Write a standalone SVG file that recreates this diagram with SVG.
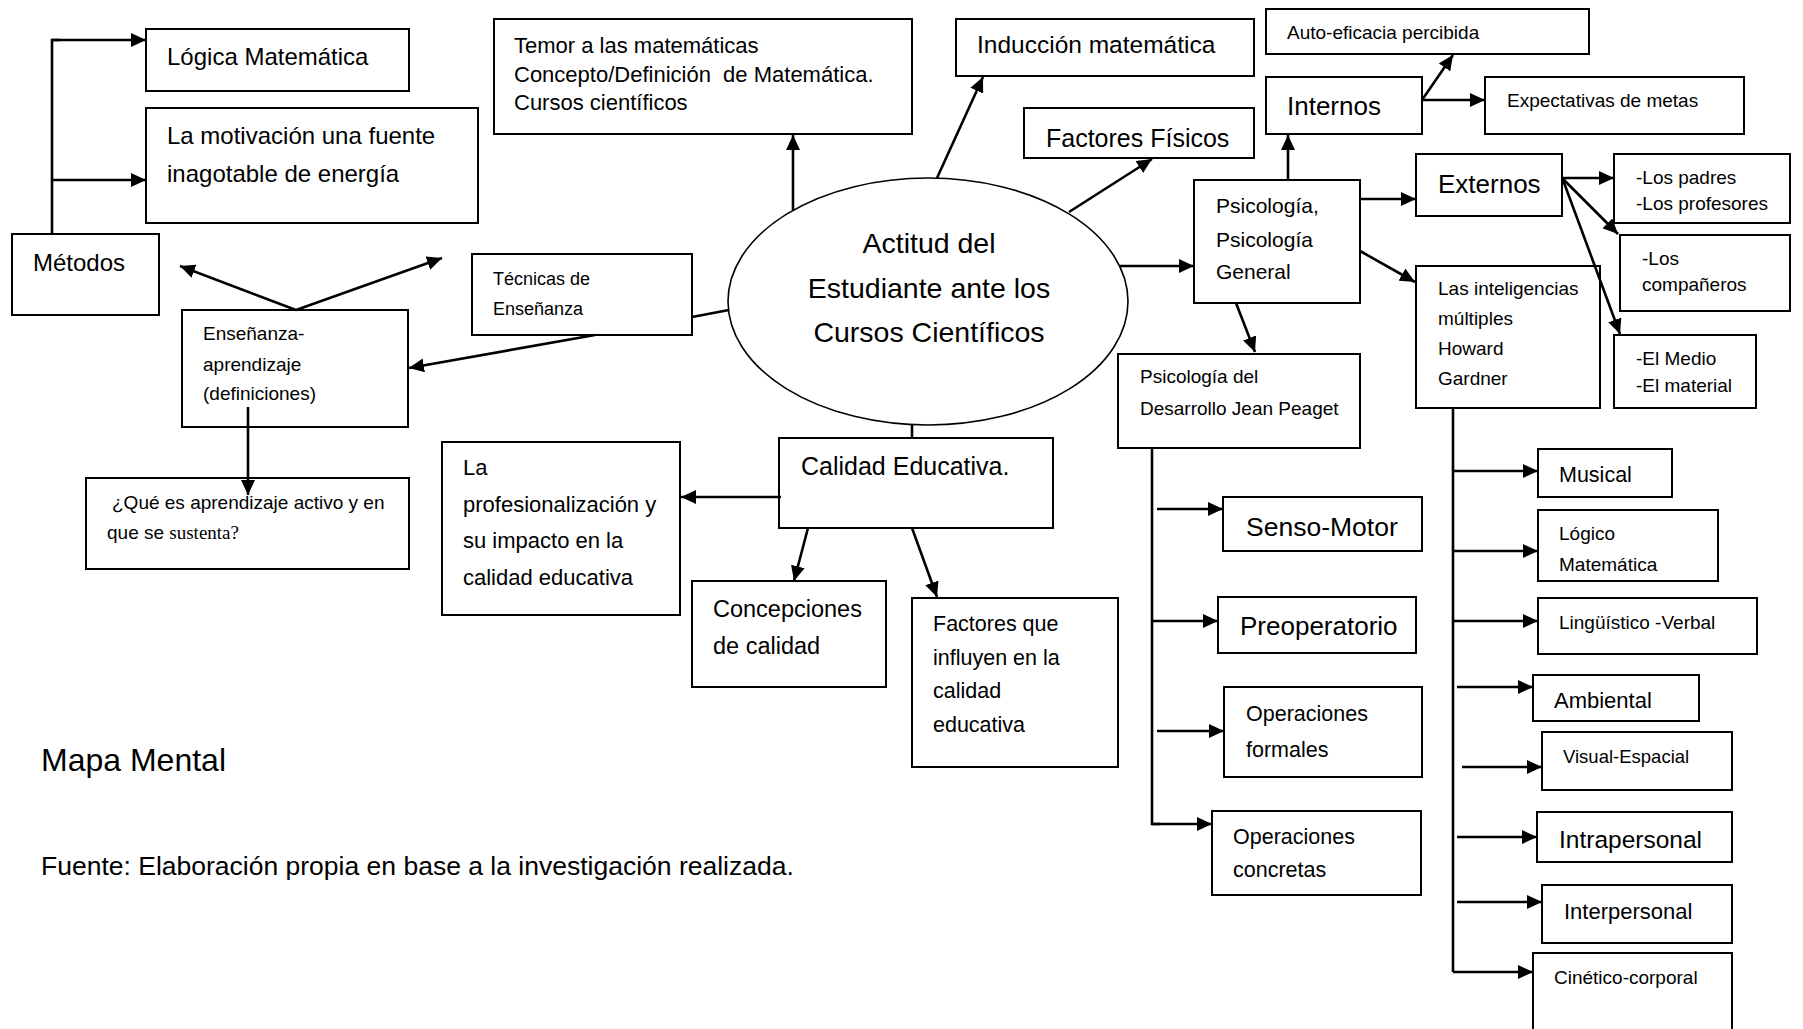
<svg xmlns="http://www.w3.org/2000/svg" width="1803" height="1029" viewBox="0 0 1803 1029">
<style>
.b{fill:#fff;stroke:#000;stroke-width:2}
.e{fill:#fff;stroke:#000;stroke-width:1.6}
.t{font-family:"Liberation Sans",Arial,sans-serif;fill:#000}
.c{fill:none;stroke:#000;stroke-width:2.6}
.a{fill:none;stroke:#000;stroke-width:2.6;marker-end:url(#ah)}
</style>
<defs>
<marker id="ah" markerUnits="userSpaceOnUse" markerWidth="16" markerHeight="14" refX="15" refY="7" orient="auto">
<path d="M0,0 L15,7 L0,14 z" fill="#000"/>
</marker>
</defs>
<rect width="1803" height="1029" fill="#fff"/>

<g id="n-logica"><rect class="b" x="146" y="29" width="263" height="62"/><text class="t" x="167" y="65" font-size="24">Lógica Matemática</text></g>
<g id="n-motivacion"><rect class="b" x="146" y="108" width="332" height="115"/><text class="t" x="167" y="144" font-size="24">La motivación una fuente</text><text class="t" x="167" y="182" font-size="24">inagotable de energía</text></g>
<g id="n-metodos"><rect class="b" x="12" y="234" width="147" height="81"/><text class="t" x="33" y="271" font-size="24">Métodos</text></g>
<g id="n-temor"><rect class="b" x="494" y="19" width="418" height="115"/><text class="t" font-size="22" x="514" y="53">Temor a las matemáticas</text><text class="t" font-size="22" x="514" y="82" xml:space="preserve">Concepto/Definición  de Matemática.</text><text class="t" font-size="22" x="514" y="110">Cursos científicos</text></g>
<g id="n-tecnicas"><rect class="b" x="472" y="254" width="220" height="81"/><text class="t" font-size="18" x="493" y="285">Técnicas de</text><text class="t" font-size="18" x="493" y="315">Enseñanza</text></g>
<g id="n-ensenanza"><rect class="b" x="182" y="310" width="226" height="117"/><text class="t" font-size="19" x="203" y="340">Enseñanza-</text><text class="t" font-size="19" x="203" y="371">aprendizaje</text><text class="t" font-size="19" x="203" y="400">(definiciones)</text></g>
<g id="n-que"><rect class="b" x="86" y="478" width="323" height="91"/><text class="t" font-size="19" x="112" y="509">¿Qué es aprendizaje activo y en</text><text class="t" font-size="19" x="107" y="539">que se <tspan font-family="'Liberation Serif',serif">sustenta?</tspan></text></g>
<g id="n-centro"><ellipse class="e" cx="928" cy="301.5" rx="200" ry="123.5"/><text class="t" font-size="28.5" text-anchor="middle" x="929" y="253">Actitud del</text><text class="t" font-size="28.5" text-anchor="middle" x="929" y="298">Estudiante ante los</text><text class="t" font-size="28.5" text-anchor="middle" x="929" y="342">Cursos Científicos</text></g>
<g id="n-induccion"><rect class="b" x="956" y="19" width="298" height="57"/><text class="t" font-size="24.5" x="977" y="53">Inducción matemática</text></g>
<g id="n-fisicos"><rect class="b" x="1024" y="108" width="230" height="50"/><text class="t" font-size="25" x="1046" y="147">Factores Físicos</text></g>
<g id="n-autoeficacia"><rect class="b" x="1266" y="9" width="323" height="45"/><text class="t" font-size="19" x="1287" y="39">Auto-eficacia percibida</text></g>
<g id="n-internos"><rect class="b" x="1266" y="77" width="156" height="57"/><text class="t" font-size="26" x="1287" y="115">Internos</text></g>
<g id="n-expectativas"><rect class="b" x="1485" y="77" width="259" height="57"/><text class="t" font-size="19" x="1507" y="107">Expectativas de metas</text></g>
<g id="n-psicologia"><rect class="b" x="1194" y="180" width="166" height="123"/><text class="t" font-size="21" x="1216" y="213">Psicología,</text><text class="t" font-size="21" x="1216" y="247">Psicología</text><text class="t" font-size="21" x="1216" y="279">General</text></g>
<g id="n-externos"><rect class="b" x="1416" y="154" width="146" height="62"/><text class="t" font-size="26" x="1438" y="193">Externos</text></g>
<g id="n-padres"><rect class="b" x="1614" y="154" width="176" height="69"/><text class="t" font-size="19" x="1636" y="184">-Los padres</text><text class="t" font-size="19" x="1636" y="210">-Los profesores</text></g>
<g id="n-companeros"><rect class="b" x="1620" y="235" width="170" height="76"/><text class="t" font-size="19" x="1642" y="265">-Los</text><text class="t" font-size="19" x="1642" y="291">compañeros</text></g>
<g id="n-medio"><rect class="b" x="1614" y="335" width="142" height="73"/><text class="t" font-size="19" x="1636" y="365">-El Medio</text><text class="t" font-size="19" x="1636" y="392">-El material</text></g>
<g id="n-inteligencias"><rect class="b" x="1416" y="266" width="184" height="142"/><text class="t" font-size="19" x="1438" y="295">Las inteligencias</text><text class="t" font-size="19" x="1438" y="325">múltiples</text><text class="t" font-size="19" x="1438" y="355">Howard</text><text class="t" font-size="19" x="1438" y="385">Gardner</text></g>
<g id="n-calidad"><rect class="b" x="779" y="438" width="274" height="90"/><text class="t" font-size="25" x="801" y="475">Calidad Educativa.</text></g>
<g id="n-profesionalizacion"><rect class="b" x="442" y="442" width="238" height="173"/><text class="t" font-size="22" x="463" y="475">La</text><text class="t" font-size="22" x="463" y="512">profesionalización y</text><text class="t" font-size="22" x="463" y="548">su impacto en la</text><text class="t" font-size="22" x="463" y="585">calidad educativa</text></g>
<g id="n-concepciones"><rect class="b" x="692" y="581" width="194" height="106"/><text class="t" font-size="23.5" x="713" y="617">Concepciones</text><text class="t" font-size="23.5" x="713" y="654">de calidad</text></g>
<g id="n-factores"><rect class="b" x="912" y="598" width="206" height="169"/><text class="t" font-size="21.5" x="933" y="631">Factores que</text><text class="t" font-size="21.5" x="933" y="665">influyen en la</text><text class="t" font-size="21.5" x="933" y="698">calidad</text><text class="t" font-size="21.5" x="933" y="732">educativa</text></g>
<g id="n-piaget"><rect class="b" x="1118" y="354" width="242" height="94"/><text class="t" font-size="19" x="1140" y="383">Psicología del</text><text class="t" font-size="19" x="1140" y="415">Desarrollo Jean Peaget</text></g>
<g id="n-senso"><rect class="b" x="1223" y="497" width="199" height="54"/><text class="t" font-size="26.5" x="1246" y="536">Senso-Motor</text></g>
<g id="n-preoperatorio"><rect class="b" x="1218" y="597" width="198" height="56"/><text class="t" font-size="26" x="1240" y="635">Preoperatorio</text></g>
<g id="n-formales"><rect class="b" x="1224" y="687" width="198" height="90"/><text class="t" font-size="21.5" x="1246" y="721">Operaciones</text><text class="t" font-size="21.5" x="1246" y="757">formales</text></g>
<g id="n-concretas"><rect class="b" x="1212" y="811" width="209" height="84"/><text class="t" font-size="21.5" x="1233" y="844">Operaciones</text><text class="t" font-size="21.5" x="1233" y="877">concretas</text></g>
<g id="n-musical"><rect class="b" x="1538" y="449" width="134" height="48"/><text class="t" font-size="21.5" x="1559" y="482">Musical</text></g>
<g id="n-logico"><rect class="b" x="1538" y="510" width="180" height="71"/><text class="t" font-size="19" x="1559" y="540">Lógico</text><text class="t" font-size="19" x="1559" y="571">Matemática</text></g>
<g id="n-linguistico"><rect class="b" x="1538" y="598" width="219" height="56"/><text class="t" font-size="19" x="1559" y="629">Lingüístico -Verbal</text></g>
<g id="n-ambiental"><rect class="b" x="1533" y="675" width="166" height="46"/><text class="t" font-size="22" x="1554" y="708">Ambiental</text></g>
<g id="n-visual"><rect class="b" x="1542" y="732" width="190" height="58"/><text class="t" font-size="18.5" x="1563" y="763">Visual-Espacial</text></g>
<g id="n-intra"><rect class="b" x="1537" y="812" width="195" height="50"/><text class="t" font-size="24.5" x="1559" y="848">Intrapersonal</text></g>
<g id="n-inter"><rect class="b" x="1542" y="885" width="190" height="58"/><text class="t" font-size="22" x="1564" y="919">Interpersonal</text></g>
<g id="n-cinetico"><rect class="b" x="1533" y="953" width="199" height="90"/><text class="t" font-size="19" x="1554" y="984">Cinético-corporal</text></g>

<g id="connectors">
<polyline class="c" points="52,234 52,40 60,40"/>
<line class="a" x1="52" y1="40" x2="146" y2="40"/>
<line class="a" x1="52" y1="180" x2="146" y2="180"/>
<line class="a" x1="296" y1="310" x2="180" y2="266"/>
<line class="a" x1="296" y1="310" x2="442" y2="258"/>
<line class="a" x1="595" y1="335" x2="409" y2="368"/>
<line class="c" x1="692" y1="317" x2="729" y2="310"/>
<line class="a" x1="248" y1="407" x2="248" y2="495"/>
<line class="a" x1="793" y1="210" x2="793" y2="135"/>
<line class="a" x1="937" y1="178" x2="983" y2="77"/>
<line class="a" x1="1069" y1="212" x2="1152" y2="159"/>
<line class="a" x1="1120" y1="266" x2="1194" y2="266"/>
<line class="a" x1="1288" y1="180" x2="1288" y2="135"/>
<line class="a" x1="1422" y1="100" x2="1453" y2="55"/>
<line class="a" x1="1422" y1="100" x2="1485" y2="100"/>
<line class="a" x1="1360" y1="199" x2="1416" y2="199"/>
<line class="a" x1="1360" y1="251" x2="1415" y2="282"/>
<line class="a" x1="1236" y1="303" x2="1255" y2="352"/>
<line class="a" x1="1562" y1="178" x2="1614" y2="178"/>
<line class="a" x1="1562" y1="178" x2="1618" y2="234"/>
<line class="a" x1="1563" y1="180" x2="1620" y2="334"/>
<line class="c" x1="912" y1="425" x2="912" y2="438"/>
<line class="a" x1="781" y1="497" x2="681" y2="497"/>
<line class="a" x1="808" y1="528" x2="794" y2="581"/>
<line class="a" x1="912" y1="528" x2="937" y2="597"/>
<polyline class="c" points="1152,448 1152,824 1160,824"/>
<line class="a" x1="1152" y1="824" x2="1212" y2="824"/>
<line class="a" x1="1157" y1="509" x2="1223" y2="509"/>
<line class="a" x1="1152" y1="621" x2="1218" y2="621"/>
<line class="a" x1="1157" y1="731" x2="1224" y2="731"/>
<line class="c" x1="1453" y1="408" x2="1453" y2="972"/>
<line class="a" x1="1453" y1="471" x2="1538" y2="471"/>
<line class="a" x1="1453" y1="551" x2="1538" y2="551"/>
<line class="a" x1="1453" y1="621" x2="1538" y2="621"/>
<line class="a" x1="1457" y1="687" x2="1533" y2="687"/>
<line class="a" x1="1462" y1="767" x2="1542" y2="767"/>
<line class="a" x1="1457" y1="837" x2="1537" y2="837"/>
<line class="a" x1="1457" y1="902" x2="1542" y2="902"/>
<line class="a" x1="1453" y1="972" x2="1533" y2="972"/>
</g>

<text class="t" font-size="32" x="41" y="771">Mapa Mental</text>
<text class="t" font-size="26.5" x="41" y="875">Fuente: Elaboración propia en base a la investigación realizada.</text>
</svg>
